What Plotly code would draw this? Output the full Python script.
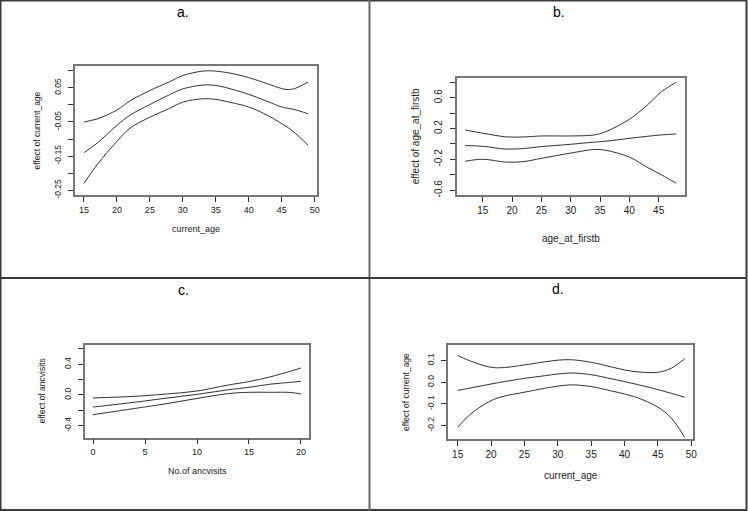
import plotly.graph_objects as go

W, H = 748, 511

# ---------------- data ----------------
# a. effect of current_age
a_x = [15, 17, 20, 22, 25, 28, 30, 33, 35, 38, 40, 43, 45, 46, 47, 49]
a_upper = [-0.050, -0.041, -0.015, 0.012, 0.042, 0.068, 0.086, 0.099, 0.099, 0.090, 0.080, 0.061, 0.048, 0.045, 0.048, 0.067]
a_mid = [-0.140, -0.112, -0.060, -0.030, 0.001, 0.030, 0.047, 0.058, 0.057, 0.043, 0.031, 0.009, -0.006, -0.010, -0.014, -0.026]
a_lower = [-0.230, -0.175, -0.107, -0.068, -0.036, -0.010, 0.008, 0.018, 0.016, 0.004, -0.006, -0.032, -0.055, -0.067, -0.082, -0.118]

# b. effect of age_at_firstb
b_x = [12, 15, 19, 22, 25, 30, 34, 36, 40, 43, 45.5, 48]
b_upper = [0.181, 0.140, 0.092, 0.091, 0.104, 0.104, 0.117, 0.160, 0.320, 0.500, 0.678, 0.800]
b_mid = [-0.021, -0.030, -0.066, -0.058, -0.034, -0.004, 0.024, 0.036, 0.073, 0.099, 0.118, 0.130]
b_lower = [-0.224, -0.198, -0.235, -0.228, -0.186, -0.118, -0.072, -0.082, -0.170, -0.300, -0.401, -0.509]

# c. effect of ancvisits
c_x = [0, 4, 7, 10, 13, 15, 17, 19, 20]
c_upper = [-0.039, -0.017, 0.012, 0.052, 0.130, 0.175, 0.235, 0.310, 0.352]
c_mid = [-0.157, -0.095, -0.042, 0.008, 0.068, 0.100, 0.140, 0.165, 0.178]
c_lower = [-0.257, -0.176, -0.115, -0.045, 0.018, 0.035, 0.035, 0.033, 0.013]

# d. effect of current_age
d_x = [15, 17, 20, 22, 25, 28, 30, 32, 35, 38, 40, 42, 45, 47, 49]
d_upper = [0.123, 0.097, 0.069, 0.068, 0.080, 0.094, 0.102, 0.104, 0.092, 0.071, 0.057, 0.048, 0.046, 0.065, 0.108]
d_mid = [-0.038, -0.026, -0.008, 0.003, 0.018, 0.030, 0.038, 0.043, 0.035, 0.016, 0.003, -0.011, -0.034, -0.051, -0.069]
d_lower = [-0.208, -0.145, -0.085, -0.064, -0.046, -0.028, -0.018, -0.012, -0.020, -0.040, -0.054, -0.072, -0.115, -0.165, -0.254]

panel_labels = ["a.", "b.", "c.", "d."]
x_titles = ["current_age", "age_at_firstb", "No.of ancvisits", "current_age"]
y_titles = ["effect of current_age", "effect of age_at_firstb", "effect of ancvisits", "effect of current_age"]

a_xticks = [15, 20, 25, 30, 35, 40, 45, 50]
b_xticks = [15, 20, 25, 30, 35, 40, 45]
c_xticks = [0, 5, 10, 15, 20]
d_xticks = [15, 20, 25, 30, 35, 40, 45, 50]

a_yticks = [-0.25, -0.20, -0.15, -0.10, -0.05, 0.00, 0.05, 0.10]
a_ytext = ["-0.25", "", "-0.15", "", "-0.05", "", "0.05", ""]
b_yticks = [-0.6, -0.4, -0.2, 0.0, 0.2, 0.4, 0.6, 0.8]
b_ytext = ["-0.6", "", "-0.2", "", "0.2", "", "0.6", ""]
c_yticks = [-0.4, -0.2, 0.0, 0.2, 0.4, 0.6]
c_ytext = ["-0.4", "", "0.0", "", "0.4", ""]
d_yticks = [-0.2, -0.1, 0.0, 0.1]
d_ytext = ["-0.2", "-0.1", "0.0", "0.1"]

# ---------------- layout helpers ----------------
FONT = "Liberation Sans, Arial, sans-serif"
LINE = "#333333"
BOX = "#777777"
TICK = "#333333"

def px(x):
    return x / W

def py(y):
    return 1 - y / H

panels = [
    dict(xs=a_x, ys=[a_upper, a_mid, a_lower], box=(75, 66, 317, 195), xr=[13.64, 50.36], yr=[-0.264, 0.114],
         xt=a_xticks, yt=a_yticks, ytt=a_ytext, fx=9, fy=8.5, xtitle_y=229, ytitle_x=36, label=(183, 12)),
    dict(xs=b_x, ys=[b_upper, b_mid, b_lower], box=(456.7, 78.3, 684.7, 195), xr=[10.56, 49.44], yr=[-0.661, 0.851],
         xt=b_xticks, yt=b_yticks, ytt=b_ytext, fx=10, fy=10, xtitle_y=238, ytitle_x=415.7, label=(559, 12)),
    dict(xs=c_x, ys=[c_upper, c_mid, c_lower], box=(84.7, 345, 309.3, 437.7), xr=[-0.8, 20.8], yr=[-0.557, 0.652],
         xt=c_xticks, yt=c_yticks, ytt=c_ytext, fx=9, fy=8.5, xtitle_y=471, ytitle_x=42, label=(183, 290)),
    dict(xs=d_x, ys=[d_upper, d_mid, d_lower], box=(448, 345, 693.3, 439), xr=[13.55, 50.3], yr=[-0.262, 0.172],
         xt=d_xticks, yt=d_yticks, ytt=d_ytext, fx=10, fy=8.5, xtitle_y=475, ytitle_x=406, label=(558, 289)),
]

fig = go.Figure()
layout = dict(width=W, height=H, autosize=False, margin=dict(l=0, r=0, t=0, b=0),
              paper_bgcolor="white", plot_bgcolor="white", showlegend=False,
              font=dict(family=FONT, color="#222222"))
annotations = []
shapes = []

for i, p in enumerate(panels):
    n = "" if i == 0 else str(i + 1)
    xa, ya = "x" + n, "y" + n
    for ys in p["ys"]:
        fig.add_trace(go.Scatter(x=p["xs"], y=ys, mode="lines", xaxis=xa, yaxis=ya,
                                 line=dict(color=LINE, width=1, shape="spline", smoothing=1.0),
                                 hoverinfo="skip"))
    x0, y0, x1, y1 = p["box"]
    layout["xaxis" + n] = dict(domain=[px(x0), px(x1)], range=p["xr"], anchor=ya, automargin=False,
                               tickmode="array", tickvals=p["xt"], ticks="outside", ticklen=5,
                               tickcolor=TICK, showline=True, linecolor=BOX, linewidth=1.5, mirror=True,
                               showgrid=False, zeroline=False,
                               tickfont=dict(size=p["fx"], family=FONT, color="#222222"))
    layout["yaxis" + n] = dict(domain=[py(y1), py(y0)], range=p["yr"], anchor=xa, automargin=False,
                               tickmode="array", tickvals=p["yt"], ticktext=p["ytt"], tickangle=-90,
                               ticks="outside", ticklen=5, tickcolor=TICK,
                               showline=True, linecolor=BOX, linewidth=1.5, mirror=True,
                               showgrid=False, zeroline=False, ticklabelstandoff=4,
                               tickfont=dict(size=p["fy"], family=FONT, color="#222222"))
    # axis titles
    annotations.append(dict(text=x_titles[i], xref="paper", yref="paper",
                            x=px((x0 + x1) / 2), y=py(p["xtitle_y"]), showarrow=False,
                            xanchor="center", yanchor="middle",
                            font=dict(size=p["fx"], family=FONT, color="#222222")))
    annotations.append(dict(text=y_titles[i], xref="paper", yref="paper",
                            x=px(p["ytitle_x"]), y=py((y0 + y1) / 2), showarrow=False, textangle=-90,
                            xanchor="center", yanchor="middle",
                            font=dict(size=p["fy"], family=FONT, color="#222222")))
    lx, ly = p["label"]
    annotations.append(dict(text=panel_labels[i], xref="paper", yref="paper",
                            x=px(lx), y=py(ly), showarrow=False, xanchor="center", yanchor="middle",
                            font=dict(size=14, family=FONT, color="#000000")))

# table borders
border = "#3a3a3a"
shapes.append(dict(type="rect", xref="paper", yref="paper", x0=px(0.5), y0=py(510), x1=px(746.5), y1=py(0.5),
                   line=dict(color=border, width=2)))
shapes.append(dict(type="line", xref="paper", yref="paper", x0=px(369.5), x1=px(369.5), y0=0, y1=1,
                   line=dict(color="#666666", width=2)))
shapes.append(dict(type="line", xref="paper", yref="paper", x0=0, x1=px(747), y0=py(278), y1=py(278),
                   line=dict(color=border, width=2)))

layout["annotations"] = annotations
layout["shapes"] = shapes
fig.update_layout(**layout)

fig.write_html("out.html", config={"displayModeBar": False},
               post_script="document.body.style.margin='0';document.body.style.padding='0';")
